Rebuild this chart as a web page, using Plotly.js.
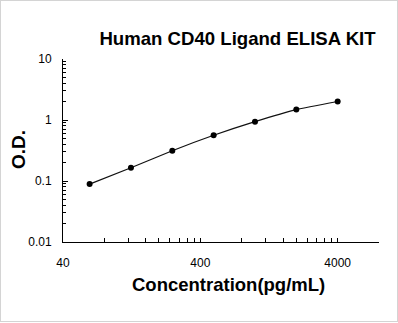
<!DOCTYPE html>
<html>
<head>
<meta charset="utf-8">
<script src="https://cdn.plot.ly/plotly-3.0.1.min.js"></script>
<style>
  html, body { margin: 0; padding: 0; background: #ffffff; }
  #wrap { position: relative; width: 398px; height: 323px; }
  #chart { width: 398px; height: 323px; }
  #frame {
    position: absolute; left: 0; top: 0; width: 398px; height: 322px;
    box-sizing: border-box; border: 1px solid #d4d4d4; pointer-events: none;
  }
</style>
</head>
<body>
<div id="wrap">
  <div id="chart"></div>
  <div id="frame"></div>
</div>
<script>
// Standard curve: concentration (pg/mL) vs optical density
const concentration = [62.5, 125, 250, 500, 1000, 2000, 4000];
const opticalDensity = [0.089, 0.165, 0.314, 0.562, 0.94, 1.48, 2.01];

// Axis ticks
const xTickVals = [40, 400, 4000];
const xTickText = ['40', '400', '4000'];
const xMinorVals = [80, 120, 160, 200, 240, 280, 320, 360,
                    800, 1200, 1600, 2000, 2400, 2800, 3200, 3600, 8000];
const yTickVals = [0.01, 0.1, 1, 10];
const yTickText = ['0.01', '0.1', '1', '10'];
const yMinorVals = [0.02, 0.03, 0.04, 0.05, 0.06, 0.07, 0.08, 0.09,
                    0.2, 0.3, 0.4, 0.5, 0.6, 0.7, 0.8, 0.9,
                    2, 3, 4, 5, 6, 7, 8, 9];

const FONT = 'Arial, "Liberation Sans", sans-serif';

const trace = {
  x: concentration,
  y: opticalDensity,
  type: 'scatter',
  mode: 'lines+markers',
  line: { color: '#111111', width: 1.2, shape: 'spline', smoothing: 0.5 },
  marker: { color: '#000000', size: 6, symbol: 'circle' },
  hoverinfo: 'x+y'
};

// Plot area in pixels: x 63..379, y 59..242
const PLOT_W = 316, PLOT_H = 183;

const layout = {
  width: 398,
  height: 323,
  margin: { l: 63, r: 19, t: 59, b: 81, pad: 0 },
  paper_bgcolor: '#ffffff',
  plot_bgcolor: '#ffffff',
  showlegend: false,
  font: { family: FONT, color: '#000000', size: 12 },
  title: {
    text: '<b>Human CD40 Ligand ELISA KIT</b>',
    font: { family: FONT, size: 18.6, color: '#000000' },
    x: 237.5 / 398, xanchor: 'center',
    y: 1 - 38 / 323, yanchor: 'middle'
  },
  xaxis: {
    type: 'log',
    range: [Math.log10(40), Math.log10(8000)],
    showgrid: false, zeroline: false,
    showline: true, linecolor: '#000000', linewidth: 1,
    ticks: 'inside', ticklen: 4, tickwidth: 1, tickcolor: '#000000',
    tickvals: xTickVals, ticktext: xTickText,
    ticklabelstandoff: 10,
    tickfont: { family: FONT, size: 12, color: '#000000' },
    minor: { tickvals: xMinorVals, ticks: 'inside', ticklen: 4, tickwidth: 1, tickcolor: '#000000', showgrid: false }
  },
  yaxis: {
    type: 'log',
    range: [-2, 1],
    showgrid: false, zeroline: false,
    showline: true, linecolor: '#000000', linewidth: 1,
    ticks: 'inside', ticklen: 5, tickwidth: 1, tickcolor: '#000000',
    tickvals: yTickVals, ticktext: yTickText,
    ticklabelstandoff: 8,
    tickfont: { family: FONT, size: 12, color: '#000000' },
    minor: { tickvals: yMinorVals, ticks: 'inside', ticklen: 3, tickwidth: 1, tickcolor: '#000000', showgrid: false }
  },
  annotations: [
    {
      text: '<b>Concentration(pg/mL)</b>',
      xref: 'paper', yref: 'paper',
      x: (228.5 - 63) / PLOT_W, y: -(284.5 - 242) / PLOT_H,
      xanchor: 'center', yanchor: 'middle',
      showarrow: false,
      font: { family: FONT, size: 18.5, color: '#000000' }
    },
    {
      text: '<b>O.D.</b>',
      textangle: -90,
      xref: 'paper', yref: 'paper',
      x: -(63 - 18) / PLOT_W, y: (242 - 150) / PLOT_H,
      xanchor: 'center', yanchor: 'middle',
      showarrow: false,
      font: { family: FONT, size: 19, color: '#000000' }
    }
  ]
};

Plotly.newPlot('chart', [trace], layout, { displayModeBar: false, staticPlot: true });
</script>
</body>
</html>
